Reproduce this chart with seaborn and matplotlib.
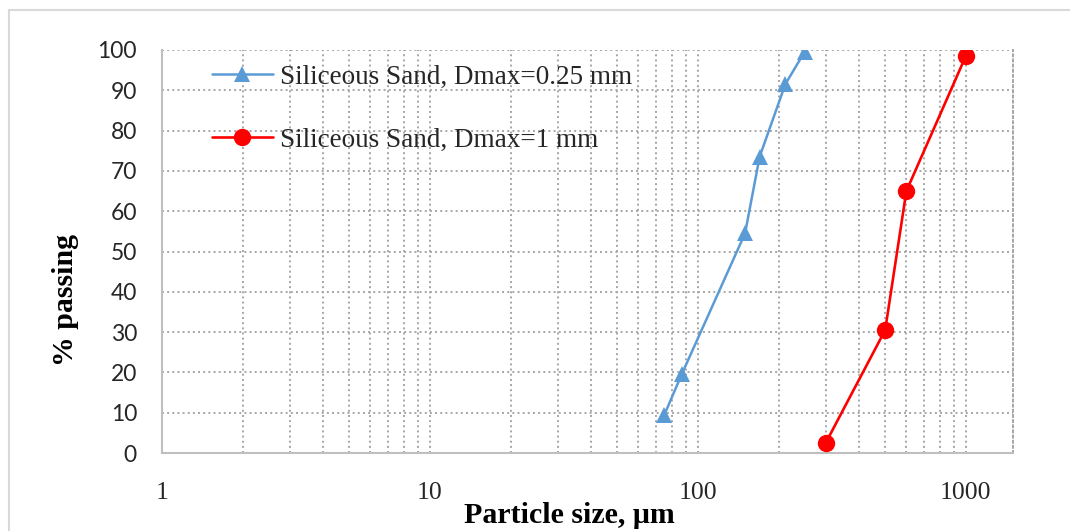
import matplotlib
matplotlib.use("Agg")
import matplotlib.pyplot as plt
import seaborn as sns
import pandas as pd
import numpy as np
from matplotlib.ticker import LogLocator, FixedLocator, NullFormatter
from matplotlib.patches import Rectangle

# Data
fine_size = [75, 87, 150, 170, 212, 250]
fine_pass = [9.5, 19.5, 54.5, 73.5, 91.5, 99.5]
coarse_size = [300, 500, 600, 1000]
coarse_pass = [2.5, 30.5, 65, 98.5]
fine_label = "Siliceous Sand, Dmax=0.25 mm"
coarse_label = "Siliceous Sand, Dmax=1 mm"
x_ticks = [1, 10, 100, 1000]
y_ticks = list(range(0, 101, 10))

sns.set_theme(style="white")
plt.rcParams['font.family'] = ['Liberation Serif', 'DejaVu Serif']

fig = plt.figure(figsize=(10.7, 5.31), dpi=100)
ax = fig.add_axes([162 / 1070, 78 / 531, 851 / 1070, 403 / 531])

# outer chart-area frame (cropped on the right and bottom)
fig.patches.append(Rectangle((9 / 1070, -0.1), 1.2, (531 - 10) / 531 + 0.1,
                             transform=fig.transFigure, fill=False,
                             edgecolor='#D9D9D9', linewidth=1.5))

df_fine = pd.DataFrame({'size': fine_size, 'passing': fine_pass})
df_coarse = pd.DataFrame({'size': coarse_size, 'passing': coarse_pass})

sns.lineplot(data=df_fine, x='size', y='passing', ax=ax, color='#5B9BD5',
             marker='^', markersize=12, markeredgewidth=0, linewidth=1.8,
             label=fine_label, zorder=3)
sns.lineplot(data=df_coarse, x='size', y='passing', ax=ax, color='#FF0000',
             marker='o', markersize=12.5, markeredgewidth=0, linewidth=1.9,
             label=coarse_label, zorder=3)

ax.set_xscale('log')
ax.set_xlim(1, 1500)
ax.set_ylim(0, 100)
ax.xaxis.set_major_locator(FixedLocator(x_ticks))
ax.set_xticklabels([str(t) for t in x_ticks])
ax.xaxis.set_minor_locator(LogLocator(base=10, subs=np.arange(2, 10)))
ax.xaxis.set_minor_formatter(NullFormatter())
ax.set_yticks(y_ticks)
ax.set_yticklabels([str(t) for t in y_ticks], family=['Lato', 'DejaVu Sans'])

ax.tick_params(axis='x', which='both', length=0, pad=21, labelsize=18.5, labelcolor='#262626')
ax.tick_params(axis='y', length=0, pad=18, labelsize=16.5, labelcolor='#262626')

ax.grid(True, which='major', axis='both', linestyle=':', color='#A6A6A6', linewidth=1.4)
ax.grid(True, which='minor', axis='x', linestyle=':', color='#A6A6A6', linewidth=1.4)
ax.set_axisbelow(True)

for side in ['left', 'bottom']:
    ax.spines[side].set_color('#BFBFBF')
    ax.spines[side].set_linewidth(1.5)
ax.spines['top'].set_visible(False)
ax.spines['right'].set_color('#A6A6A6')
ax.spines['right'].set_linestyle(':')
ax.spines['right'].set_linewidth(1.4)

ax.set_xlabel('Particle size, μm', fontsize=21.5, fontweight='bold', color='black')
ax.xaxis.set_label_coords(0.479, -0.155)
ax.xaxis.label.set_va('center')
ax.set_ylabel('% passing', fontsize=21.5, fontweight='bold', color='black')
ax.yaxis.set_label_coords(-0.113, 0.38)
ax.yaxis.label.set_va('center')

leg = ax.legend(loc='upper left', bbox_to_anchor=(0.046, 0.99), frameon=False,
                fontsize=19.5, handlelength=2.25, handletextpad=0.25,
                labelspacing=1.4, borderaxespad=0)
for t in leg.get_texts():
    t.set_color('#262626')

fig.savefig('out.png', dpi=100)
